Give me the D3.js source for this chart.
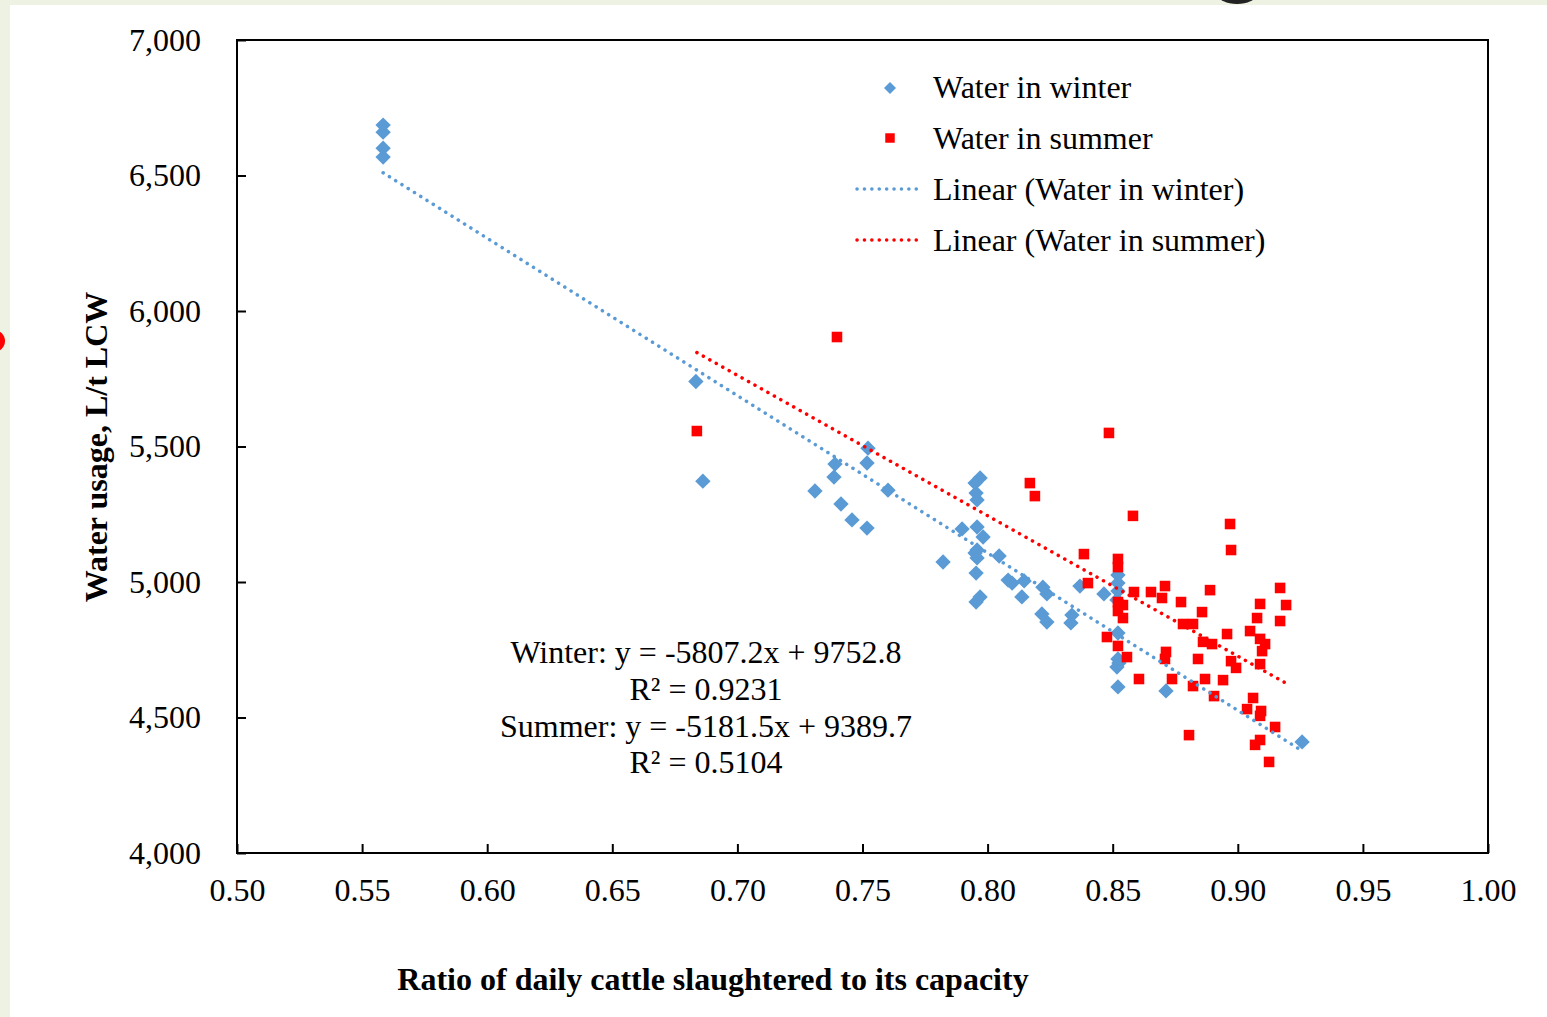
<!DOCTYPE html>
<html>
<head>
<meta charset="utf-8">
<script src="https://cdn.jsdelivr.net/npm/d3@7"></script>
<style>
  body { margin: 0; background: #fff; }
  svg text { font-family: "Liberation Serif", "Times New Roman", serif; fill: #000; }
</style>
</head>
<body>
<svg id="chart"></svg>
<script>
// Winter points [ratio, L/t LCW]
const winterX = [0.5584, 0.5584, 0.5584, 0.5584, 0.6834, 0.6862, 0.7310, 0.7390, 0.7386, 0.7414,
    0.7458, 0.7522, 0.7518, 0.7518, 0.7602, 0.7822, 0.7898, 0.7958, 0.7982, 0.7970,
    0.7950, 0.7954, 0.7958, 0.7958, 0.7950, 0.7958, 0.7954, 0.7970, 0.7954, 0.8046,
    0.8082, 0.8098, 0.8146, 0.8137, 0.8221, 0.8237, 0.8217, 0.8237, 0.8337, 0.8333,
    0.8369, 0.8465, 0.8521, 0.8521, 0.8521, 0.8517, 0.8521, 0.8521, 0.8517, 0.8525,
    0.8521, 0.8713, 0.9257];
const winterY = [6686, 6660, 6601, 6568, 5740, 5372, 5336, 5435, 5387, 5288,
    5229, 5494, 5439, 5199, 5339, 5074, 5196, 5203, 5166, 5384,
    5365, 5328, 5303, 5118, 5107, 5089, 5033, 4945, 4926, 5096,
    5007, 4996, 5004, 4945, 4981, 4956, 4882, 4852, 4878, 4849,
    4985, 4956, 5026, 4996, 4967, 4934, 4812, 4716, 4686, 4701,
    4613, 4598, 4410];

// Summer points
const summerX = [0.7398, 0.6838, 0.8485, 0.8169, 0.8189, 0.8581, 0.8969, 0.8973, 0.8385, 0.8521,
    0.8521, 0.8401, 0.8709, 0.8585, 0.8653, 0.8697, 0.8889, 0.9169, 0.8773, 0.8521,
    0.8541, 0.8521, 0.8541, 0.9089, 0.9193, 0.8857, 0.9077, 0.9169, 0.8781, 0.8821,
    0.8957, 0.9049, 0.8477, 0.9089, 0.9109, 0.9097, 0.8861, 0.8897, 0.8521, 0.8713,
    0.8709, 0.8557, 0.8841, 0.8973, 0.8993, 0.9089, 0.8605, 0.8737, 0.8869, 0.8941,
    0.8821, 0.8905, 0.9061, 0.9037, 0.9093, 0.9089, 0.9149, 0.8805, 0.9089, 0.9069,
    0.9125];
const summerY = [5904, 5557, 5550, 5365, 5317, 5244, 5214, 5118, 5103, 5085,
    5055, 4996, 4985, 4963, 4963, 4941, 4970, 4978, 4926, 4926,
    4915, 4893, 4867, 4919, 4915, 4889, 4867, 4856, 4845, 4845,
    4808, 4819, 4797, 4790, 4771, 4745, 4779, 4771, 4764, 4742,
    4716, 4723, 4716, 4708, 4683, 4697, 4642, 4642, 4642, 4638,
    4616, 4579, 4572, 4531, 4524, 4506, 4465, 4435, 4417, 4399,
    4336];

// Trend lines: slope, intercept
const winterFit = [-5807.2, 9752.8];
const summerFit = [-5181.5, 9389.7];

const xTicks = [0.50, 0.55, 0.60, 0.65, 0.70, 0.75, 0.80, 0.85, 0.90, 0.95, 1.00];
const yTicks = [4000, 4500, 5000, 5500, 6000, 6500, 7000];

const legendLabels = ['Water in winter', 'Water in summer',
    'Linear (Water in winter)', 'Linear (Water in summer)'];
const eqLines = ['Winter: y = -5807.2x + 9752.8', 'R\u00b2 = 0.9231',
    'Summer: y = -5181.5x + 9389.7', 'R\u00b2 = 0.5104'];

const W = 1547, H = 1017;
const padL = 237, padR = 1488, padT = 40, padB = 853;
const blue = '#5b9bd5', red = '#ff0000';
const fs = 32;

const svg = d3.select('#chart').attr('width', W).attr('height', H);

// slide decoration around the picture
svg.append('rect').attr('x', 0).attr('y', 0).attr('width', 10).attr('height', H).attr('fill', '#eef2e2');
svg.append('rect').attr('x', 0).attr('y', 0).attr('width', W).attr('height', 5).attr('fill', '#eef2e2');
svg.append('circle').attr('cx', -6).attr('cy', 341).attr('r', 11).attr('fill', red);
svg.append('ellipse').attr('cx', 1237).attr('cy', -5).attr('rx', 19).attr('ry', 9).attr('fill', '#222');

const x = d3.scaleLinear().domain([0.5, 1.0]).range([padL, padR]);
const y = d3.scaleLinear().domain([4000, 7000]).range([padB, padT]);

// Axes (ticks point inward)
const xAxis = d3.axisBottom(x).tickValues(xTicks).tickFormat(d3.format('.2f'))
    .tickSizeInner(-9).tickSizeOuter(0).tickPadding(25);
const yAxis = d3.axisLeft(y).tickValues(yTicks).tickFormat(d3.format(','))
    .tickSizeInner(-9).tickSizeOuter(0).tickPadding(36);

const gx = svg.append('g').attr('transform', `translate(0, ${padB})`).call(xAxis);
const gy = svg.append('g').attr('transform', `translate(${padL}, 0)`).call(yAxis);
[gx, gy].forEach(g => {
    g.select('.domain').remove();
    g.selectAll('.tick line').attr('stroke', '#000').attr('stroke-width', 2);
    g.selectAll('.tick text').attr('font-size', fs).attr('font-family', '"Liberation Serif", serif').attr('fill', '#000');
});
gx.selectAll('.tick text').attr('dy', '0.71em');

// plot frame
svg.append('rect')
    .attr('x', padL).attr('y', padT)
    .attr('width', padR - padL).attr('height', padB - padT)
    .attr('fill', 'none').attr('stroke', '#000').attr('stroke-width', 2);

// trend lines
const trend = (xs, fit, color) => {
    const x0 = d3.min(xs), x1 = d3.max(xs);
    svg.append('line')
        .attr('x1', x(x0)).attr('y1', y(fit[0] * x0 + fit[1]))
        .attr('x2', x(x1)).attr('y2', y(fit[0] * x1 + fit[1]))
        .attr('stroke', color).attr('stroke-width', 3.5)
        .attr('stroke-linecap', 'round').attr('stroke-dasharray', '0.1 7.3');
};

// points
const diamond = d3.symbol().type(d3.symbolSquare).size(118);
const square = d3.symbol().type(d3.symbolSquare).size(112);

svg.append('g').selectAll('path')
    .data(winterX.map((v, i) => [v, winterY[i]]))
    .join('path')
    .attr('d', diamond)
    .attr('transform', d => `translate(${x(d[0])}, ${y(d[1])}) rotate(45)`)
    .attr('fill', blue);

svg.append('g').selectAll('path')
    .data(summerX.map((v, i) => [v, summerY[i]]))
    .join('path')
    .attr('d', square)
    .attr('transform', d => `translate(${x(d[0])}, ${y(d[1])})`)
    .attr('fill', red);

trend(winterX, winterFit, blue);
trend(summerX, summerFit, red);

// legend
const leg = svg.append('g');
leg.append('path').attr('d', d3.symbol().type(d3.symbolSquare).size(72))
    .attr('transform', 'translate(890, 88) rotate(45)').attr('fill', blue);
leg.append('path').attr('d', d3.symbol().type(d3.symbolSquare).size(90))
    .attr('transform', 'translate(890, 138)').attr('fill', red);
[[189, blue], [240, red]].forEach(([ly, c]) => {
    leg.append('line').attr('x1', 857).attr('x2', 918).attr('y1', ly).attr('y2', ly)
        .attr('stroke', c).attr('stroke-width', 3.5)
        .attr('stroke-linecap', 'round').attr('stroke-dasharray', '0.1 7.3');
});
leg.selectAll('text').data(legendLabels).join('text')
    .attr('x', 933).attr('y', (d, i) => 87 + i * 51)
    .attr('dy', '0.35em').attr('font-size', fs)
    .text(d => d);

// regression equations
svg.append('g').selectAll('text').data(eqLines).join('text')
    .attr('x', 706).attr('y', (d, i) => 652 + i * 36.7)
    .attr('dy', '0.35em').attr('text-anchor', 'middle').attr('font-size', fs)
    .text(d => d);

// axis titles
svg.append('text')
    .attr('x', 713).attr('y', 979).attr('dy', '0.35em')
    .attr('text-anchor', 'middle').attr('font-size', fs).attr('font-weight', 'bold')
    .text('Ratio of daily cattle slaughtered to its capacity');

svg.append('text')
    .attr('transform', 'translate(96, 447) rotate(-90)')
    .attr('dy', '0.35em')
    .attr('text-anchor', 'middle').attr('font-size', fs).attr('font-weight', 'bold')
    .text('Water usage, L/t LCW');
</script>
</body>
</html>
